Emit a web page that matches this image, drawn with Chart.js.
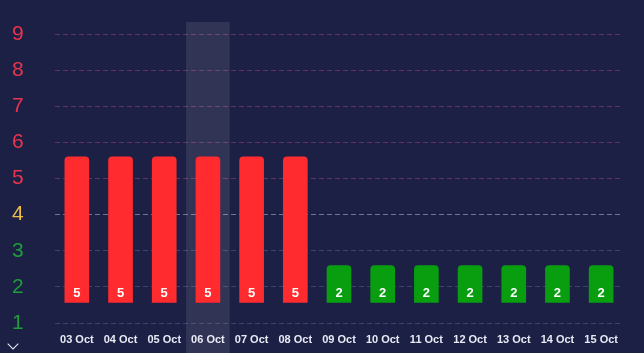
<!DOCTYPE html>
<html>
<head>
<meta charset="utf-8">
<script src="https://cdn.jsdelivr.net/npm/chart.js@4"></script>
<style>
  html, body { margin: 0; padding: 0; background: #1d2045; }
  #wrap { position: relative; width: 644px; height: 353px; }
  #chevron {
    position: absolute; left: 9px; top: 340px; width: 7px; height: 7px;
    border-right: 1.5px solid #e6e8f2; border-bottom: 1.5px solid #e6e8f2;
    transform: rotate(45deg);
  }
</style>
</head>
<body>
<div id="wrap">
  <canvas id="barChart" width="644" height="353"></canvas>
  <div id="chevron"></div>
</div>
<script>
const days = ["03 Oct", "04 Oct", "05 Oct", "06 Oct", "07 Oct", "08 Oct", "09 Oct",
  "10 Oct", "11 Oct", "12 Oct", "13 Oct", "14 Oct", "15 Oct"];
const levels = [5, 5, 5, 5, 5, 5, 2, 2, 2, 2, 2, 2, 2];
const barBottom = [1.57, 1.57, 1.57, 1.57, 1.57, 1.57, 1.57, 1.57, 1.57, 1.57, 1.57, 1.57, 1.57];
const barTop = [5.6, 5.6, 5.6, 5.6, 5.6, 5.6, 2.59, 2.59, 2.59, 2.59, 2.59, 2.59, 2.59];
const yTicks = [1, 2, 3, 4, 5, 6, 7, 8, 9];
const highlightDay = "06 Oct";

function levelColor(v) {
  if (v >= 5) return "#e8344e";
  if (v === 4) return "#eebd48";
  return "#1f9d3b";
}
function gridColor(v) {
  if (v >= 5) return "rgba(190,70,130,0.45)";
  if (v === 4) return "rgba(200,200,220,0.5)";
  return "rgba(140,150,200,0.3)";
}

const highlightPlugin = {
  id: "highlight",
  beforeDatasetsDraw(chart) {
    const x = chart.scales.x;
    const i = days.indexOf(highlightDay);
    if (i < 0) return;
    const w = x.width / days.length;
    const cx = x.getPixelForValue(i);
    const ctx = chart.ctx;
    ctx.save();
    ctx.fillStyle = "rgba(255,255,255,0.09)";
    ctx.fillRect(cx - w / 2, chart.chartArea.top - 12, w, chart.height);
    ctx.restore();
  }
};

const valueLabels = {
  id: "valueLabels",
  afterDatasetsDraw(chart) {
    const ctx = chart.ctx;
    const meta = chart.getDatasetMeta(0);
    ctx.save();
    ctx.fillStyle = "#ffffff";
    ctx.font = "bold 13px Arial, 'Liberation Sans', sans-serif";
    ctx.textAlign = "center";
    ctx.textBaseline = "middle";
    meta.data.forEach((bar, i) => {
      ctx.fillText(String(levels[i]), bar.x, bar.base - 9);
    });
    ctx.restore();
  }
};

new Chart(document.getElementById("barChart"), {
  type: "bar",
  data: {
    labels: days,
    datasets: [{
      data: barTop.map((t, i) => [barBottom[i], t]),
      backgroundColor: levels.map(v => v >= 5 ? "#ff2b2e" : "#089e10"),
      borderRadius: { topLeft: 4, topRight: 4, bottomLeft: 0, bottomRight: 0 },
      borderSkipped: false,
      barThickness: 24
    }]
  },
  options: {
    responsive: false,
    animation: false,
    layout: { padding: { top: 34, left: 12, right: 21, bottom: 0 } },
    plugins: { legend: { display: false }, tooltip: { enabled: false } },
    scales: {
      x: {
        grid: { display: false },
        border: { display: false },
        afterFit(axis) { axis.height = 30; },
        ticks: {
          color: "#e8eaf4",
          padding: 2,
          maxRotation: 0,
          font: { family: "Arial, 'Liberation Sans', sans-serif", size: 11, weight: "bold" }
        }
      },
      y: {
        min: 1,
        max: 9,
        afterBuildTicks(axis) { axis.ticks = yTicks.map(v => ({ value: v })); },
        afterFit(axis) { axis.width = 43; },
        border: { display: false, dash: [5, 3] },
        grid: {
          drawTicks: false,
          color: ctx => gridColor(ctx.tick ? ctx.tick.value : 1)
        },
        ticks: {
          crossAlign: "far",
          color: ctx => levelColor(ctx.tick.value),
          font: { family: "Arial, 'Liberation Sans', sans-serif", size: 21 }
        }
      }
    }
  },
  plugins: [highlightPlugin, valueLabels]
});
</script>
</body>
</html>
